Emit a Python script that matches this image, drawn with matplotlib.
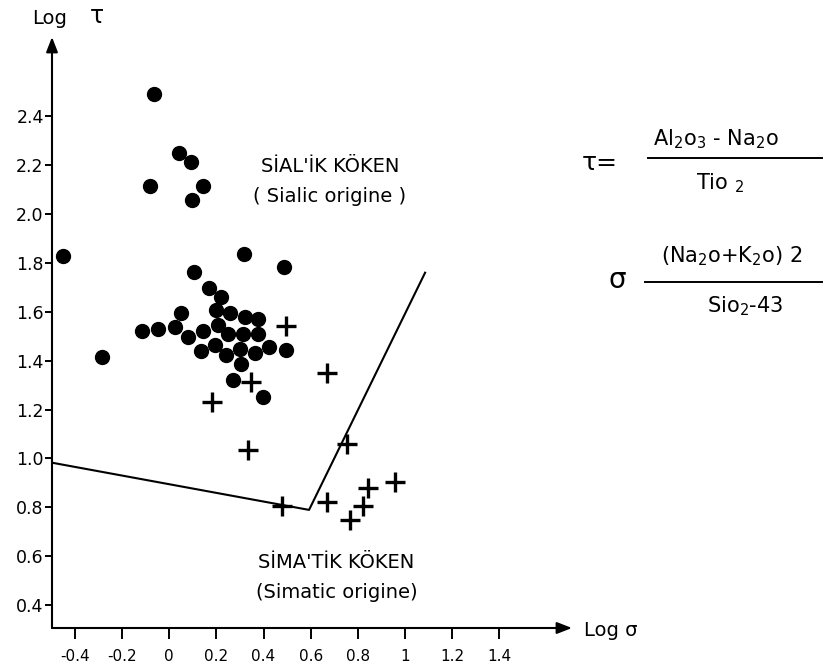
import numpy as np
from matplotlib import pyplot as plt
from matplotlib.lines import Line2D

# sialic points (dots)
sial_x = [-0.449, 0.317, 0.488, 0.104, 0.169, 0.221, 0.051, 0.197, 0.257, 0.320,
          0.377, -0.115, -0.049, 0.023, 0.078, 0.145, 0.206, 0.251, 0.314, 0.377,
          0.136, 0.196, 0.240, 0.302, 0.363, 0.425, 0.494, 0.306, -0.284, 0.271,
          0.397, -0.064, 0.042, 0.092, -0.081, 0.145, 0.095]
sial_y = [1.827, 1.834, 1.781, 1.761, 1.697, 1.660, 1.594, 1.606, 1.593, 1.577,
          1.571, 1.520, 1.530, 1.536, 1.498, 1.520, 1.544, 1.507, 1.507, 1.509,
          1.440, 1.465, 1.423, 1.449, 1.431, 1.456, 1.442, 1.387, 1.413, 1.320,
          1.253, 2.489, 2.247, 2.213, 2.113, 2.115, 2.056]

# simatic points (crosses)
sima_x = [0.494, 0.348, 0.182, 0.668, 0.336, 0.753, 0.477, 0.668, 0.845, 0.958, 0.823, 0.767]
sima_y = [1.540, 1.311, 1.232, 1.348, 1.035, 1.058, 0.807, 0.821, 0.878, 0.905, 0.807, 0.749]

# boundary between the two fields
border_x = [-0.498, 0.593, 1.085]
border_y = [0.983, 0.790, 1.759]

xticks = [-0.4, -0.2, 0, 0.2, 0.4, 0.6, 0.8, 1.0, 1.2, 1.4]
xtick_labels = ['-0.4', '-0.2', '0', '0.2', '0.4', '0.6', '0.8', '1', '1.2', '1.4']
yticks = [0.4, 0.6, 0.8, 1.0, 1.2, 1.4, 1.6, 1.8, 2.0, 2.2, 2.4]
ytick_labels = ['0.4', '0.6', '0.8', '1.0', '1.2', '1.4', '1.6', '1.8', '2.0', '2.2', '2.4']

W, H = 831, 670
fig = plt.figure(figsize=(W / 100, H / 100), dpi=100)
fig.patch.set_facecolor('white')

def fx(px):
    return px / W

def fy(py):
    return 1 - py / H

ax = fig.add_axes([fx(52), fy(628), fx(572) - fx(52), fy(37) - fy(628)])
ax.set_xlim(-0.497, 1.708)
ax.set_ylim(0.3075, 2.722)
for s in ax.spines.values():
    s.set_visible(False)

ax.plot(sial_x, sial_y, 'o', color='black', markersize=10, zorder=3)
ax.plot(sima_x, sima_y, '+', color='black', markersize=15, markeredgewidth=2.4, zorder=3)
ax.plot(border_x, border_y, color='black', linewidth=1.5)

ax.set_xticks(xticks, xtick_labels, fontsize=11)
ax.set_yticks(yticks, ytick_labels, fontsize=12.5)
ax.tick_params(axis='x', direction='out', length=8, width=1.4, pad=7)
ax.tick_params(axis='y', direction='out', length=5, width=1.4, pad=1)

# axes with arrowheads
arrow = dict(arrowstyle='-|>,head_length=0.9,head_width=0.35', color='black', lw=1.5,
             shrinkA=0, shrinkB=0)
ax.annotate('', xy=(1, 0), xytext=(0, 0), xycoords='axes fraction', arrowprops=arrow)
ax.annotate('', xy=(0, 1), xytext=(0, 0), xycoords='axes fraction', arrowprops=arrow)

fig.text(fx(32), fy(18), 'Log', fontsize=14, ha='left', va='center')
fig.text(fx(97), fy(16), 'τ', fontsize=17, ha='center', va='center')
fig.text(fx(584), fy(630), 'Log σ', fontsize=14, ha='left', va='center')

fig.text(fx(330), fy(166), "SİAL'İK KÖKEN", fontsize=14, ha='center', va='center')
fig.text(fx(330), fy(196), '( Sialic origine )', fontsize=14, ha='center', va='center')
fig.text(fx(336), fy(563), "SİMA'TİK KÖKEN", fontsize=14, ha='center', va='center')
fig.text(fx(337), fy(593), '(Simatic origine)', fontsize=14, ha='center', va='center')

# formulas on the right
fig.text(fx(600), fy(163), 'τ=', fontsize=18, ha='center', va='center')
fig.text(fx(716), fy(139), 'Al$_2$o$_3$ - Na$_2$o', fontsize=15, ha='center', va='center')
fig.add_artist(Line2D([fx(648), fx(822)], [fy(158), fy(158)], color='black', lw=1.4))
fig.text(fx(720), fy(183), 'Tio $_2$', fontsize=15, ha='center', va='center')

fig.text(fx(617), fy(280), 'σ', fontsize=20, ha='center', va='center')
fig.text(fx(732), fy(256), '(Na$_2$o+K$_2$o) 2', fontsize=15, ha='center', va='center')
fig.add_artist(Line2D([fx(645), fx(822)], [fy(282), fy(282)], color='black', lw=1.4))
fig.text(fx(745), fy(306), 'Sio$_2$-43', fontsize=15, ha='center', va='center')

plt.savefig('out.png', dpi=100)
